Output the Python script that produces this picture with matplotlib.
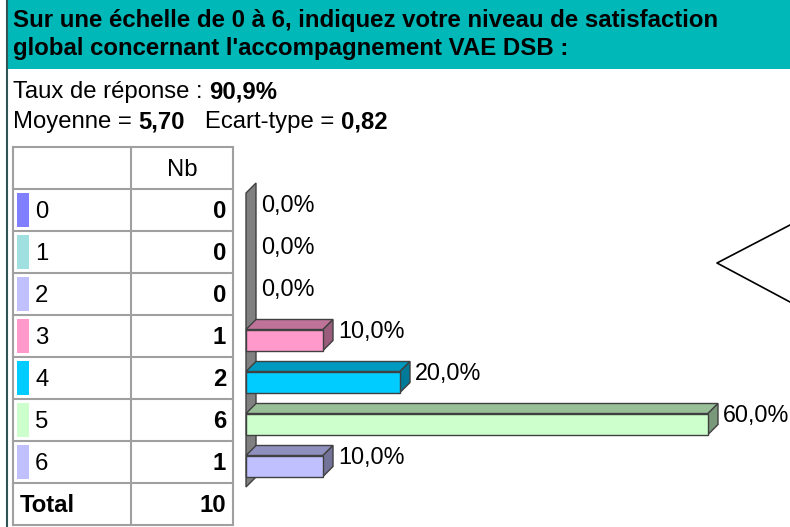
import matplotlib
matplotlib.use('Agg')
import matplotlib.pyplot as plt
from matplotlib.patches import Rectangle, Polygon
from matplotlib.colors import to_rgb

plt.rcParams['font.family'] = ['Liberation Sans', 'DejaVu Sans']

# --- données ---
titre = ["Sur une échelle de 0 à 6, indiquez votre niveau de satisfaction",
         "global concernant l'accompagnement VAE DSB :"]
taux_reponse = "90,9%"
moyenne = "5,70"
ecart_type = "0,82"

modalites = ['0', '1', '2', '3', '4', '5', '6']
effectifs = [0, 0, 0, 1, 2, 6, 1]
total = 10
pourcentages = [0.0, 0.0, 0.0, 10.0, 20.0, 60.0, 10.0]
couleurs = ['#8080FF', '#A0E0E0', '#C0C0FF', '#FF99CC', '#00CCFF', '#CCFFCC', '#C0C0FF']

TAILLE = 17.2


def assombrir(c, f):
    r, g, b = to_rgb(c)
    return (r * f, g * f, b * f)


fig = plt.figure(figsize=(7.9, 5.27), dpi=100)

# calque en pixels pour l'en-tete, les textes et le tableau
ax0 = fig.add_axes([0, 0, 1, 1])
ax0.set_xlim(0, 790)
ax0.set_ylim(527, 0)
ax0.axis('off')

ax0.add_patch(Rectangle((8, 0), 782, 69, color='#00B8B8', lw=0))
ax0.plot([7, 7], [0, 527], color='#2F5555', lw=1.5)

ax0.text(13, 27, titre[0], fontsize=17.3, fontweight='bold', va='baseline')
ax0.text(13, 55, titre[1], fontsize=17.3, fontweight='bold', va='baseline')

renderer = fig.canvas.get_renderer()


def texte_mixte(x, y, morceaux, taille=TAILLE):
    for txt, poids in morceaux:
        t = ax0.text(x, y, txt, fontsize=taille, fontweight=poids, va='baseline')
        bb = t.get_window_extent(renderer)
        x = ax0.transData.inverted().transform((bb.x1, bb.y0))[0]


texte_mixte(13, 98, [("Taux de réponse : ", 'normal'), (taux_reponse, 'bold')])
texte_mixte(13, 128, [("Moyenne = ", 'normal'), (moyenne, 'bold'),
                      ("   Ecart-type = ", 'normal'), (ecart_type, 'bold')])

# tableau
x_g, x_m, x_d = 13, 131, 233
y_haut, h_ligne = 147, 42
n_lignes = len(modalites) + 2
gris = '#A0A0A0'
for k in range(n_lignes + 1):
    y = y_haut + k * h_ligne
    ax0.plot([x_g, x_d], [y, y], color=gris, lw=1.5)
y_bas = y_haut + n_lignes * h_ligne
for x in (x_g, x_m, x_d):
    ax0.plot([x, x], [y_haut, y_bas], color=gris, lw=1.5)

ax0.text((x_m + x_d) / 2, y_haut + h_ligne / 2 + 8, "Nb", fontsize=TAILLE,
         ha='center', va='baseline')
for i, (m, n, c) in enumerate(zip(modalites, effectifs, couleurs)):
    yc = y_haut + (i + 1.5) * h_ligne
    ax0.add_patch(Rectangle((17, yc - 17), 12, 34, color=c, lw=0))
    ax0.text(35, yc + 8, m, fontsize=TAILLE, va='baseline')
    ax0.text(226, yc + 8, str(n), fontsize=TAILLE, fontweight='bold',
             ha='right', va='baseline')
yc = y_haut + (n_lignes - 0.5) * h_ligne
ax0.text(20, yc + 8.5, "Total", fontsize=TAILLE, fontweight='bold', va='baseline')
ax0.text(226, yc + 8.5, str(total), fontsize=TAILLE, fontweight='bold',
         ha='right', va='baseline')

# forme en chevron coupée sur le bord droit
ax0.plot([790, 717, 790], [225, 263, 302], color='black', lw=1.2)

# --- barres 3D ---
ax = fig.add_axes([246 / 790, 1 - 487 / 527, 539 / 790, 294 / 527])
ax.set_xlim(0, 70)
ax.set_ylim(len(modalites) - 0.5, -0.5)
ax.axis('off')

dx, dy = 10 / 7.7, 10 / 42
ep = 0.25
bord = '#404040'

y0, y1 = -0.5, len(modalites) - 0.5
ax.add_patch(Polygon([(0, y0), (0, y1), (dx, y1 - dy), (dx, y0 - dy)],
                     closed=True, fc='#808080', ec=bord, lw=1, clip_on=False))

for i, (p, c) in enumerate(zip(pourcentages, couleurs)):
    if p > 0:
        ax.add_patch(Polygon([(0, i - ep), (p, i - ep), (p + dx, i - ep - dy), (dx, i - ep - dy)],
                             closed=True, fc=assombrir(c, 0.75), ec=bord, lw=1, clip_on=False))
        ax.add_patch(Polygon([(p, i - ep), (p, i + ep), (p + dx, i + ep - dy), (p + dx, i - ep - dy)],
                             closed=True, fc=assombrir(c, 0.6), ec=bord, lw=1, clip_on=False))
        ax.add_patch(Rectangle((0, i - ep), p, 2 * ep, fc=c, ec=bord, lw=1, clip_on=False))
    ax.text(p + dx + 0.65, i - 0.04, f"{p:.1f}%".replace('.', ','), fontsize=16.8,
            va='baseline', ha='left', clip_on=False)

fig.savefig('out.png', dpi=100)
